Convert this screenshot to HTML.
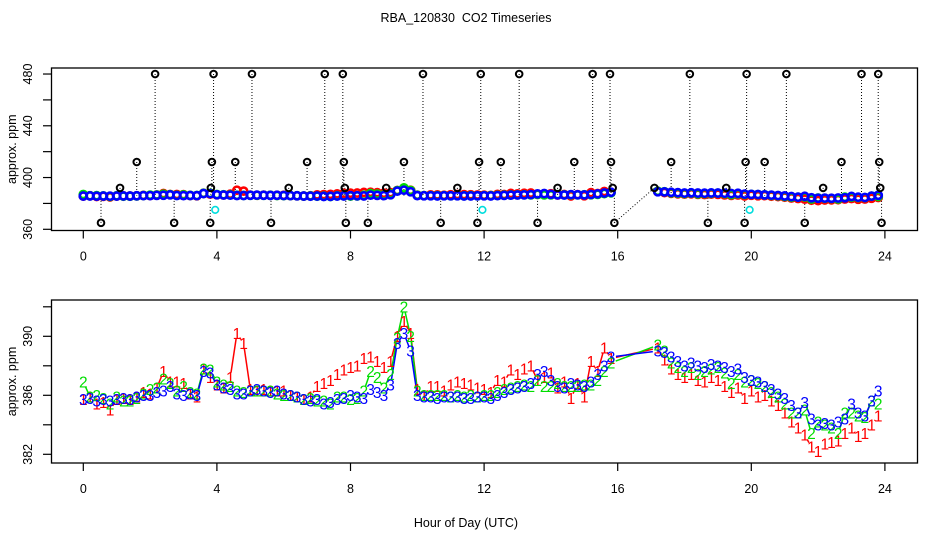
<!DOCTYPE html>
<html><head><meta charset="utf-8"><style>
html,body{margin:0;padding:0;background:#fff;}
svg{display:block;font-family:"Liberation Sans",sans-serif;}
</style></head><body>
<svg id="chart" width="936" height="540" viewBox="0 0 936 540" xmlns="http://www.w3.org/2000/svg">
<rect width="936" height="540" fill="#fff"/>
<text x="466" y="22" font-size="12.5" text-anchor="middle" style="white-space:pre">RBA_120830&#160; CO2 Timeseries</text>
<g id="top"></g>
<g id="bot"></g>
<text x="466" y="527" font-size="12.5" text-anchor="middle">Hour of Day (UTC)</text>
</svg>
<script>
// Data
const segAStart = 0.0, segAStep = 0.2;
const segBStart = 17.2, segBStep = 0.2;
const s1A = [385.7,385.9,385.4,385.5,385.0,385.7,385.8,385.7,385.9,386.2,386.1,386.5,387.6,386.9,386.9,386.8,386.1,385.9,387.8,387.2,386.7,386.5,387.2,390.2,389.5,386.4,386.3,386.4,386.3,386.3,386.3,386.0,385.9,385.7,385.9,386.6,386.8,387.0,387.4,387.7,387.9,388.0,388.5,388.6,388.3,387.9,388.3,390.0,391.0,390.2,386.4,386.0,386.6,386.6,386.3,386.7,386.9,386.8,386.7,386.5,386.4,386.2,387.0,386.9,387.7,387.4,387.8,388.0,387.0,387.2,387.5,386.5,386.9,385.8,386.8,385.9,388.3,387.6,389.2,388.5];
const s2A = [386.9,385.9,386.0,385.8,385.4,385.9,385.6,385.6,385.8,386.1,386.4,386.5,387.1,386.8,386.3,386.6,386.2,386.1,387.8,387.7,386.9,386.7,386.6,386.3,386.2,386.3,386.3,386.3,386.3,386.1,386.0,386.0,385.9,385.7,385.8,385.6,385.6,385.4,385.9,385.9,385.7,385.8,386.3,387.6,387.2,386.5,387.4,389.9,392.0,390.0,386.3,386.0,386.0,386.0,386.0,385.9,386.0,385.9,386.0,385.9,386.0,386.0,386.2,386.4,386.5,386.6,386.7,386.6,387.0,386.6,386.6,386.8,386.6,386.6,386.6,386.7,386.7,387.0,387.6,388.2];
const s3A = [385.7,385.8,385.6,385.7,385.6,385.7,385.8,385.7,385.9,386.0,386.0,386.2,386.3,386.6,386.1,386.0,386.1,386.0,387.6,387.5,386.7,386.5,386.4,386.1,386.1,386.3,386.4,386.3,386.2,386.3,386.1,386.0,385.9,385.7,385.6,385.7,385.4,385.5,385.7,385.8,386.0,385.9,385.8,386.4,386.2,386.0,386.7,389.5,390.2,389.0,386.0,385.9,385.9,385.8,385.9,385.9,385.9,385.8,385.8,385.9,385.9,385.8,386.0,386.2,386.4,386.5,386.6,386.8,387.4,387.6,387.0,386.6,386.5,386.8,386.7,386.6,386.9,387.4,388.0,388.6];
const s1B = [389.2,388.4,387.8,387.4,387.2,387.4,387.0,386.9,387.2,387.0,386.6,386.2,386.5,385.8,386.3,385.9,386.0,385.6,385.3,384.8,384.2,383.8,383.3,382.5,382.2,382.7,382.8,382.9,383.4,383.8,383.2,383.4,384.0,384.6];
const s2B = [389.4,389.0,388.2,387.9,387.6,387.9,387.4,387.6,387.8,387.9,387.5,386.8,387.4,386.9,387.0,386.8,386.6,386.2,385.9,385.4,384.8,384.8,385.0,383.4,384.2,384.0,383.8,383.4,384.8,384.8,384.6,384.5,385.6,385.4];
const s3B = [389.0,388.9,388.6,388.3,388.0,388.2,388.0,387.9,388.1,388.0,387.9,387.6,387.8,387.2,387.0,386.9,386.6,386.4,386.1,385.8,385.3,384.8,385.5,384.4,384.0,384.1,384.0,384.2,384.4,385.4,384.8,384.6,385.6,386.3];
const outlierHours = [0.53,1.1,1.6,2.15,2.72,3.8,3.82,3.85,3.9,4.55,5.05,5.62,6.15,6.7,7.23,7.77,7.8,7.83,7.86,8.52,9.07,9.6,10.17,10.7,11.2,11.8,11.85,11.9,12.5,13.05,13.6,14.2,14.7,15.25,15.77,15.8,15.85,15.9,17.1,17.6,18.16,18.7,19.25,19.8,19.83,19.86,20.4,21.05,21.6,22.15,22.7,23.3,23.8,23.83,23.86,23.9];
const outlierVals  = [365,392,412,480,365,365,392,412,480,412,480,365,392,412,480,480,412,392,365,365,392,412,480,365,392,365,412,480,412,480,365,392,412,480,480,412,392,365,392,412,480,365,392,365,412,480,412,480,365,392,412,480,480,412,392,365];
const cyanHours = [3.95,11.95,19.95];
const cyanVals = [375,375,375];
const xTicks = [0,4,8,12,16,20,24];
const topYTicks = [360,380,400,420,440,460,480];
const topYLabels = [360,400,440,480];
const botYTicks = [382,384,386,388,390,392];
const botYLabels = [382,386,390];

const NS = "http://www.w3.org/2000/svg";
function mk(parent, tag, attrs){const e=document.createElementNS(NS,tag);for(const k in attrs)e.setAttribute(k,attrs[k]);parent.appendChild(e);return e;}
const xs = h => 83.3 + h*33.4;
const yTop = v => 229.3 - (v-360)*1.294;
const yBot = v => 395.3 - (v-386)*14.75;
function hoursOf(start, step, n){const a=[];for(let i=0;i<n;i++)a.push(+(start+i*step).toFixed(3));return a;}
const hA = hoursOf(segAStart, segAStep, s1A.length);
const hB = hoursOf(segBStart, segBStep, s1B.length);
const allH = hA.concat(hB);
const series = [
  {vals:s1A.concat(s1B), color:"#ff0000", ch:"1"},
  {vals:s2A.concat(s2B), color:"#00dd00", ch:"2"},
  {vals:s3A.concat(s3B), color:"#0000ff", ch:"3"}
];

function axes(g, top, bottom, yf, yTicks, yLabels, name){
  const b = mk(g,"rect",{x:51.5,y:top,width:866,height:bottom-top,fill:"none",stroke:"#000","stroke-width":1.3});
  
  
  xTicks.forEach(t=>{
    const l=mk(g,"line",{x1:xs(t),x2:xs(t),y1:bottom,y2:bottom+8,stroke:"#000","stroke-width":1.2});
    
    
    const tx=mk(g,"text",{x:xs(t),y:bottom+30,"font-size":12.5,"text-anchor":"middle"});
    tx.textContent=t;
    
    
  });
  yTicks.forEach(t=>{
    const l=mk(g,"line",{x1:43,x2:51.5,y1:yf(t),y2:yf(t),stroke:"#000","stroke-width":1.2});
    
    
  });
  yLabels.forEach(t=>{
    const tx=mk(g,"text",{x:0,y:0,"font-size":12.5,"text-anchor":"middle",transform:`translate(32,${yf(t)}) rotate(-90)`});
    tx.textContent=t;
    
    
  });
  const yt=mk(g,"text",{x:0,y:0,"font-size":12.5,"text-anchor":"middle",transform:`translate(16,${(top+bottom)/2}) rotate(-90)`});
  yt.textContent="approx. ppm";
  
  
}

// Top panel
const gt=document.getElementById("top");
axes(gt,68,230.5,yTop,topYTicks,topYLabels,"top");
outlierHours.forEach((h,i)=>{
  const l=mk(gt,"line",{x1:xs(h),x2:xs(h),y1:yTop(outlierVals[i]),y2:yTop(386),stroke:"#000","stroke-width":1,"stroke-dasharray":"1,2"});
  
  
});
const dl=mk(gt,"line",{x1:xs(15.9),y1:yTop(365),x2:xs(17.1),y2:yTop(392),stroke:"#000","stroke-width":1,"stroke-dasharray":"1,2"});


series.forEach(s=>{
  s.vals.forEach((v,i)=>{
    const c=mk(gt,"circle",{cx:xs(allH[i]),cy:yTop(v),r:3.6,fill:"none",stroke:s.color,"stroke-width":2.6});
    
    
  });
});
outlierHours.forEach((h,i)=>{
  const c=mk(gt,"circle",{cx:xs(h),cy:yTop(outlierVals[i]),r:3.3,fill:"none",stroke:"#000","stroke-width":2});
  
  
});
cyanHours.forEach((h,i)=>{
  const c=mk(gt,"circle",{cx:xs(h),cy:yTop(cyanVals[i]),r:3.3,fill:"none",stroke:"#00dddd","stroke-width":1.6});
  
  
});

// Bottom panel (type "b": segments with gaps around characters)
const gb=document.getElementById("bot");
axes(gb,300,463,yBot,botYTicks,botYLabels,"bottom");
const GAP=5;
series.forEach(s=>{
  for(let i=1;i<s.vals.length;i++){
    const x1=xs(allH[i-1]),y1=yBot(s.vals[i-1]),x2=xs(allH[i]),y2=yBot(s.vals[i]);
    const dx=x2-x1,dy=y2-y1,L=Math.hypot(dx,dy);
    if(L<=2*GAP+1)continue;
    const ux=dx/L,uy=dy/L;
    const ln=mk(gb,"line",{x1:x1+ux*GAP,y1:y1+uy*GAP,x2:x2-ux*GAP,y2:y2-uy*GAP,stroke:s.color,"stroke-width":1.5});
    
    
  }
});
series.forEach(s=>{
  s.vals.forEach((v,i)=>{
    const t=mk(gb,"text",{x:xs(allH[i]),y:yBot(v)+5.5,"font-size":15.5,"text-anchor":"middle",fill:s.color});
    t.textContent=s.ch;
    
    
  });
});
</script>
</body></html>
